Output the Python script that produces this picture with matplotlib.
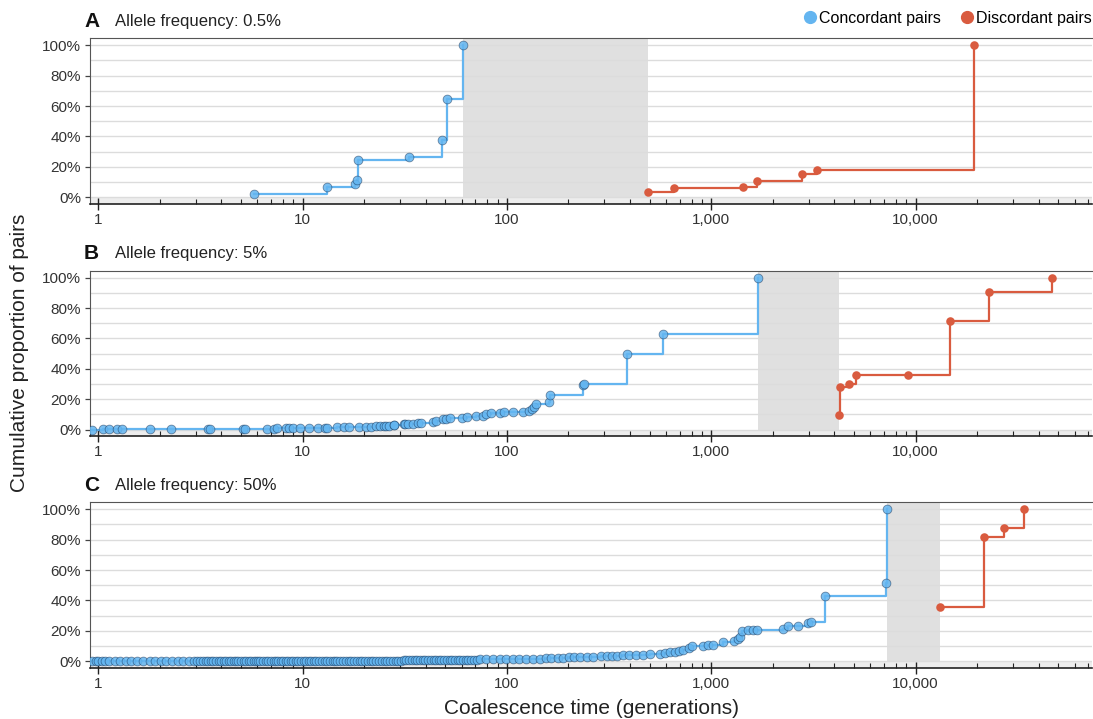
import numpy as np
import matplotlib
matplotlib.use('Agg')
import matplotlib.pyplot as plt
from matplotlib.ticker import LogLocator, FuncFormatter, NullFormatter
from matplotlib.lines import Line2D

plt.rcParams['font.family'] = ['Liberation Sans', 'DejaVu Sans']

# Panel A: allele frequency 0.5%
a_conc_x = [5.8, 13.2, 18.1, 18.4, 18.6, 33.0, 48.0, 50.7, 61.0]
a_conc_y = [2.2, 6.4, 8.8, 11.0, 24.3, 26.5, 37.5, 64.3, 100]
a_disc_x = [488, 659, 1435, 1680, 2780, 3300, 19370]
a_disc_y = [3.7, 5.7, 6.4, 10.5, 14.9, 18.0, 100]

# Panel B: allele frequency 5%
b_conc_x = [0.93, 1.05, 1.13, 1.24, 1.31, 1.79, 2.28, 3.45, 3.53, 5.08,
            5.22, 6.69, 7.26, 7.49, 8.29, 8.61, 8.93, 9.75, 10.7, 11.9,
            12.8, 13.2, 14.7, 16.0, 16.8, 18.8, 20.5, 21.5, 22.9, 23.8,
            25.1, 25.6, 26.6, 27.9, 28.1, 31.5, 31.8, 32.7, 34.6, 36.6,
            38.0, 43.4, 44.7, 48.6, 50.5, 52.8, 60.4, 64.0, 70.8, 76.3,
            79.2, 83.8, 92.0, 96.4, 107, 120, 128, 132, 135, 139,
            160, 162, 235, 239, 387, 582, 1694]
b_conc_y = [0.0, 0.1, 0.15, 0.2, 0.25, 0.3, 0.35, 0.4, 0.45, 0.5,
            0.55, 0.6, 0.65, 0.7, 0.75, 0.8, 0.85, 0.9, 1.0, 1.1,
            1.2, 1.3, 1.4, 1.5, 1.6, 1.7, 1.8, 1.9, 2.0, 2.1,
            2.2, 2.4, 2.6, 2.9, 3.1, 3.4, 3.5, 3.7, 3.9, 4.2,
            4.6, 4.8, 5.5, 6.6, 7.0, 7.7, 7.9, 8.1, 8.6, 8.8,
            10.5, 11.0, 11.0, 11.4, 11.4, 11.6, 12.1, 13.2, 14.9, 17.1,
            17.8, 22.6, 29.5, 30.0, 50.0, 63.2, 100]
b_disc_x = [4200, 4250, 4730, 5120, 9160, 14750, 22900, 46300]
b_disc_y = [9.5, 27.7, 29.7, 35.6, 35.6, 71.4, 90.8, 100]

# Panel C: allele frequency 50%
c_conc_x = [0.93, 0.97, 1.0, 1.04, 1.08, 1.13, 1.2, 1.28, 1.36, 1.45,
            1.55, 1.65, 1.78, 1.9, 2.02, 2.15, 2.3, 2.45, 2.6, 2.78,
            2.95, 3.05, 3.15, 3.25, 3.35, 3.45, 3.55, 3.65, 3.78, 3.9,
            4.0, 4.1, 4.22, 4.35, 4.48, 4.6, 4.72, 4.85, 5.0, 5.15,
            5.3, 5.45, 5.6, 5.75, 5.9, 6.05, 6.2, 6.4, 6.6, 6.8,
            7.0, 7.2, 7.4, 7.6, 7.8, 8.0, 8.25, 8.5, 8.75, 9.0,
            9.25, 9.5, 9.8, 10.1, 10.4, 10.7, 11.0, 11.3, 11.6, 12.0,
            12.4, 12.8, 13.2, 13.6, 14.0, 14.4, 14.8, 15.3, 15.8, 16.3,
            16.8, 17.3, 17.8, 18.4, 19.0, 19.6, 20.2, 20.8, 21.5, 22.2,
            22.9, 23.6, 24.4, 25.2, 26.0, 26.8, 27.6, 28.5, 29.4, 30.3,
            31.2, 32.2, 33.2, 34.2, 35.3, 36.4, 37.5, 38.7, 39.9, 41.1,
            42.4, 43.7, 45.0, 46.4, 47.8, 49.3, 50.8, 52.4, 54.0, 55.7,
            57.4, 59.2, 61.0, 62.9, 64.8, 66.8, 68.9, 71.0, 73.5, 79.3,
            85.5, 92, 99, 107, 115, 124, 134, 145, 155, 165,
            178, 188, 201, 213, 227, 245, 264, 287, 307, 325,
            346, 371, 396, 428, 465, 501, 561, 593, 628, 663,
            697, 729, 780, 804, 914, 966, 1023, 1146, 1291, 1356,
            1383, 1408, 1507, 1596, 1683, 2240, 2385, 2670, 2990, 3070,
            3600, 7200, 7260]
c_conc_y = [0, 0, 0, 0, 0, 0, 0, 0, 0, 0,
            0, 0, 0, 0, 0, 0.05, 0.05, 0.05, 0.05, 0.05,
            0.05, 0.05, 0.05, 0.05, 0.05, 0.1, 0.1, 0.1, 0.1, 0.1,
            0.1, 0.1, 0.1, 0.1, 0.1, 0.1, 0.1, 0.1, 0.1, 0.1,
            0.15, 0.15, 0.15, 0.15, 0.15, 0.15, 0.15, 0.15, 0.15, 0.15,
            0.2, 0.2, 0.2, 0.2, 0.2, 0.2, 0.2, 0.2, 0.2, 0.2,
            0.25, 0.25, 0.25, 0.25, 0.25, 0.25, 0.25, 0.25, 0.25, 0.25,
            0.3, 0.3, 0.3, 0.3, 0.3, 0.3, 0.3, 0.3, 0.3, 0.3,
            0.35, 0.35, 0.35, 0.35, 0.35, 0.35, 0.35, 0.35, 0.35, 0.35,
            0.4, 0.4, 0.4, 0.4, 0.4, 0.4, 0.4, 0.4, 0.4, 0.4,
            0.5, 0.5, 0.5, 0.5, 0.5, 0.5, 0.5, 0.5, 0.5, 0.5,
            0.6, 0.6, 0.6, 0.6, 0.6, 0.6, 0.6, 0.6, 0.6, 0.6,
            0.7, 0.75, 0.8, 0.85, 0.9, 0.95, 1.0, 1.05, 1.1, 1.1,
            1.3, 1.3, 1.3, 1.3, 1.5, 1.5, 1.7, 1.7, 2.0, 2.0,
            2.2, 2.2, 2.4, 2.6, 2.6, 2.8, 3.0, 3.3, 3.5, 3.5,
            3.7, 3.9, 3.9, 4.1, 4.3, 4.6, 4.8, 5.3, 5.7, 6.1,
            6.8, 7.4, 8.5, 10.0, 10.0, 10.5, 10.9, 12.3, 13.4, 14.4,
            15.8, 20.0, 20.4, 20.4, 20.6, 21.2, 23.0, 23.4, 25.2, 25.8,
            42.7, 51.2, 100]
c_disc_x = [13150, 21570, 26940, 33740]
c_disc_y = [35.7, 81.6, 87.7, 100]

panel_letters = ['A', 'B', 'C']
panel_titles = ['Allele frequency: 0.5%', 'Allele frequency: 5%', 'Allele frequency: 50%']

blue = '#64b5f0'
red = '#d95b3f'
W, H = 1093, 719

fig = plt.figure(figsize=(W / 100, H / 100), dpi=100)

series = [(a_conc_x, a_conc_y, a_disc_x, a_disc_y),
          (b_conc_x, b_conc_y, b_disc_x, b_disc_y),
          (c_conc_x, c_conc_y, c_disc_x, c_disc_y)]
tops = [38.3, 270.7, 502.3]
ax_h = 165.5

for letter, title, (cx, cy, dx, dy), top in zip(panel_letters, panel_titles, series, tops):
    ax = fig.add_axes([90 / W, 1 - (top + ax_h) / H, 1002 / W, ax_h / H])
    ax.set_xscale('log')
    ax.set_xlim(0.91, 73000)
    ax.set_ylim(-4.4, 104.6)

    # gap between the two groups
    ax.axvspan(max(cx), min(dx), color='#e0e0e0', lw=0, zorder=0)
    ax.axhspan(-4.4, 0, color='#ededed', lw=0, zorder=0.5)
    for g in range(0, 101, 10):
        ax.axhline(g, color='#dcdcdc', lw=1, zorder=1)

    ax.step(cx, cy, where='post', color=blue, lw=1.6, zorder=2)
    ax.step(dx, dy, where='post', color=red, lw=1.6, zorder=2)
    ax.scatter(cx, cy, s=40, facecolor=(0.39, 0.71, 0.94, 0.85),
               edgecolor=(0.05, 0.16, 0.3, 0.5), linewidths=0.6, zorder=3)
    ax.scatter(dx, dy, s=38, color=red, lw=0, zorder=3)

    ax.set_yticks(range(0, 101, 20))
    ax.yaxis.set_major_formatter(FuncFormatter(lambda v, p: f'{v:.0f}%'))
    ax.xaxis.set_major_locator(LogLocator(base=10))
    ax.xaxis.set_minor_locator(LogLocator(base=10, subs=np.arange(2, 10)))
    ax.xaxis.set_minor_formatter(NullFormatter())
    ax.xaxis.set_major_formatter(FuncFormatter(lambda v, p: f'{v:,.0f}'))

    ax.tick_params(axis='y', direction='out', length=3.5, width=0.9, color='#444',
                   labelsize=11, labelcolor='#333', pad=3)
    ax.tick_params(axis='x', which='major', direction='inout', length=9, width=1,
                   color='#222', labelsize=11, labelcolor='#333', pad=2)
    ax.tick_params(axis='x', which='minor', direction='in', length=3.5, width=0.8,
                   color='#222')

    ax.spines['right'].set_visible(False)
    ax.spines['top'].set_color('#555')
    ax.spines['left'].set_color('#555')
    ax.spines['bottom'].set_color('#222')
    ax.spines['bottom'].set_linewidth(1.2)

    fig.text(84 / W, 1 - (top - 17) / H, letter, fontsize=15, fontweight='bold',
             va='center', ha='left', color='#111')
    fig.text(115 / W, 1 - (top - 17) / H, title, fontsize=12, va='center',
             ha='left', color='#222')

handles = [Line2D([], [], marker='o', ls='', color=blue, markersize=8.5),
           Line2D([], [], marker='o', ls='', color=red, markersize=8.5)]
fig.legend(handles, ['Concordant pairs', 'Discordant pairs'], loc='center right',
           bbox_to_anchor=(1092 / W, 1 - 18 / H), ncol=2, frameon=False,
           fontsize=11.5, handlelength=0.6, handletextpad=0.3, columnspacing=1.3,
           borderpad=0, borderaxespad=0)

fig.text(591 / W, 1 - 708 / H, 'Coalescence time (generations)', ha='center',
         va='center', fontsize=15, color='#222')
fig.text(20 / W, 1 - 353 / H, 'Cumulative proportion of pairs', rotation=90,
         ha='center', va='center', fontsize=15, color='#222')

fig.savefig('out.png', dpi=100)
